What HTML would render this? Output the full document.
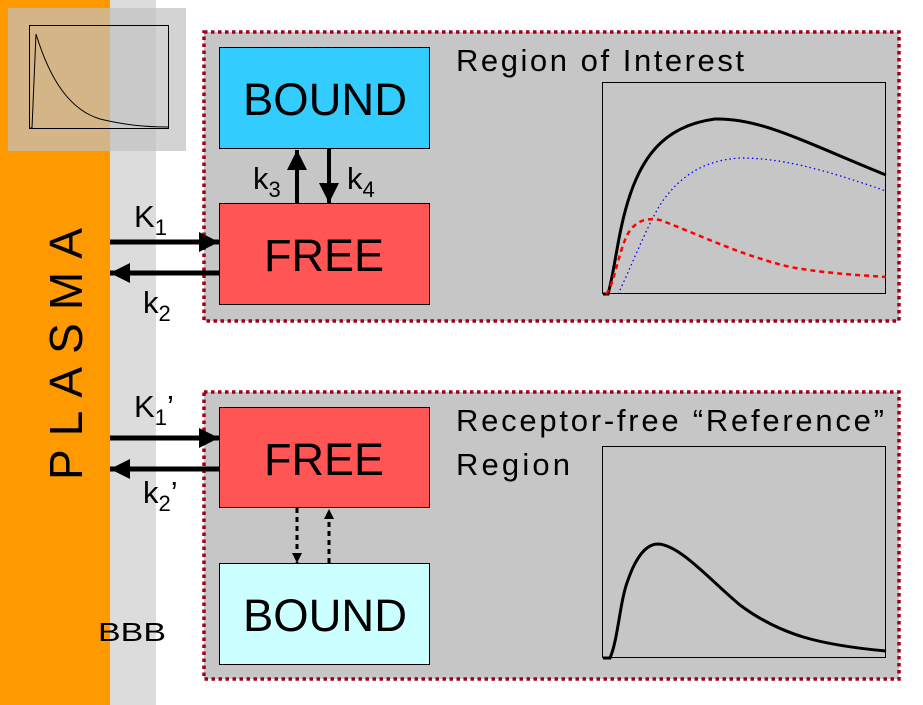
<!DOCTYPE html>
<html><head><style>html,body{margin:0;padding:0;background:#fff}svg{display:block}</style></head>
<body>
<svg width="923" height="705" viewBox="0 0 923 705" xmlns="http://www.w3.org/2000/svg" font-family="Liberation Sans, Arial, sans-serif">
<defs>
<marker id="ah" viewBox="0 0 10 10" refX="10" refY="5" markerWidth="10" markerHeight="10" markerUnits="userSpaceOnUse" orient="auto"><path d="M0,0L10,5L0,10z" fill="#000"/></marker>
<marker id="ahL" viewBox="0 0 20 20" refX="20" refY="10" markerWidth="20" markerHeight="20" markerUnits="userSpaceOnUse" orient="auto"><path d="M0,0L20,10L0,20z" fill="#000"/></marker>
</defs>
<rect x="0" y="0" width="110" height="705" fill="#ff9900"/>
<rect x="110" y="0" width="46" height="705" fill="#dcdcdc"/>
<!-- thumbnail -->
<rect x="8" y="8" width="178" height="143" fill="#c0c0c0" opacity="0.7"/>
<rect x="29.5" y="25.5" width="139" height="103" fill="none" stroke="#000" stroke-width="1"/>
<path d="M30,128 L32,128 L36,34 C50,80 70,110 100,119 C125,125 145,127 168,127" fill="none" stroke="#000" stroke-width="1"/>
<!-- PLASMA -->
<text transform="translate(82,354) rotate(-90)" text-anchor="middle" font-size="46" textLength="252" lengthAdjust="spacing">PLASMA</text>
<text x="98" y="641" font-size="26" textLength="68" lengthAdjust="spacingAndGlyphs">BBB</text>
<!-- top region -->
<rect x="204" y="32" width="695" height="289" fill="#c6c6c6" stroke="#a00020" stroke-width="3.5" stroke-dasharray="3.5,3.5"/>
<rect x="219.5" y="47.5" width="210" height="101" fill="#33ccff" stroke="#000"/>
<rect x="219.5" y="203.5" width="210" height="101" fill="#ff5555" stroke="#000"/>
<text x="243" y="115" font-size="45" textLength="164" lengthAdjust="spacingAndGlyphs">BOUND</text>
<text x="264" y="271" font-size="45" textLength="120" lengthAdjust="spacingAndGlyphs">FREE</text>
<line x1="297" y1="203" x2="297" y2="150" stroke="#000" stroke-width="4" marker-end="url(#ahL)"/>
<line x1="329" y1="148" x2="329" y2="203" stroke="#000" stroke-width="4" marker-end="url(#ahL)"/>
<text x="253" y="189" font-size="31">k<tspan font-size="22" dy="8">3</tspan></text>
<text x="347" y="189" font-size="31">k<tspan font-size="22" dy="8">4</tspan></text>
<line x1="110" y1="242" x2="219" y2="242" stroke="#000" stroke-width="5" marker-end="url(#ahL)"/>
<line x1="219" y1="273" x2="110" y2="273" stroke="#000" stroke-width="5" marker-end="url(#ahL)"/>
<text x="134" y="227" font-size="31">K<tspan font-size="22" dy="8">1</tspan></text>
<text x="143" y="313" font-size="31">k<tspan font-size="22" dy="8">2</tspan></text>
<text x="456" y="71" font-size="31" textLength="288" lengthAdjust="spacing">Region of Interest</text>
<rect x="602.5" y="82.5" width="283" height="211" fill="none" stroke="#000"/>
<path d="M603,294 L608,294 C615,270 618,230 630,195 C645,150 670,125 715,119 C760,118 800,140 886,175" fill="none" stroke="#000" stroke-width="3"/>
<path d="M618,294 C630,270 645,230 660,205 C680,175 705,160 740,158 C780,158 820,168 886,191" fill="none" stroke="#0000ff" stroke-width="1.3" stroke-dasharray="1.5,3"/>
<path d="M606,294 C615,285 620,240 632,228 C640,219 650,218 660,220 C700,235 740,255 790,267 C830,274 860,275 886,277" fill="none" stroke="#ff0000" stroke-width="2.5" stroke-dasharray="5,4"/>
<!-- bottom region -->
<rect x="204" y="392" width="695" height="287" fill="#c6c6c6" stroke="#a00020" stroke-width="3.5" stroke-dasharray="3.5,3.5"/>
<rect x="219.5" y="407.5" width="210" height="100" fill="#ff5555" stroke="#000"/>
<rect x="219.5" y="563.5" width="210" height="101" fill="#ccffff" stroke="#000"/>
<text x="264" y="475" font-size="45" textLength="120" lengthAdjust="spacingAndGlyphs">FREE</text>
<text x="243" y="631" font-size="45" textLength="164" lengthAdjust="spacingAndGlyphs">BOUND</text>
<line x1="297" y1="508" x2="297" y2="563" stroke="#000" stroke-width="3" stroke-dasharray="5,4" marker-end="url(#ah)"/>
<line x1="329" y1="563" x2="329" y2="509" stroke="#000" stroke-width="3" stroke-dasharray="5,4" marker-end="url(#ah)"/>
<line x1="110" y1="438" x2="219" y2="438" stroke="#000" stroke-width="5" marker-end="url(#ahL)"/>
<line x1="219" y1="469" x2="110" y2="469" stroke="#000" stroke-width="5" marker-end="url(#ahL)"/>
<text x="134" y="417" font-size="31">K<tspan font-size="22" dy="8">1</tspan><tspan dy="-8">’</tspan></text>
<text x="143" y="503" font-size="31">k<tspan font-size="22" dy="8">2</tspan><tspan dy="-8">’</tspan></text>
<text x="456" y="431" font-size="31" textLength="428" lengthAdjust="spacing">Receptor-free “Reference”</text>
<text x="456" y="475" font-size="31" textLength="114" lengthAdjust="spacing">Region</text>
<rect x="602.5" y="446.5" width="283" height="211" fill="none" stroke="#000"/>
<path d="M603,658 L610,658 C618,640 620,600 628,580 C635,560 645,544 658,544 C680,545 710,580 740,605 C780,635 820,645 886,651" fill="none" stroke="#000" stroke-width="3"/>
</svg>
</body></html>
